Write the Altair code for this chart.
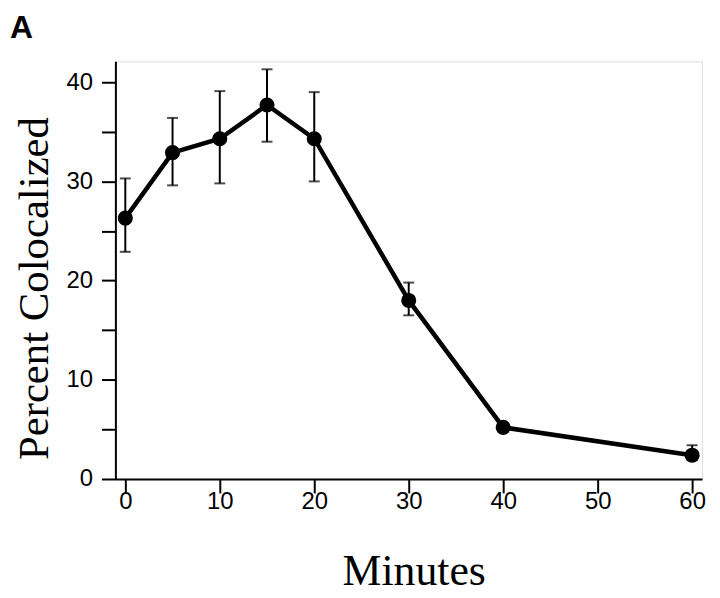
import altair as alt
import pandas as pd

# Data
minutes = [0, 5, 10, 15, 20, 30, 40, 60]
percent = [26.3, 32.9, 34.3, 37.7, 34.3, 18.0, 5.2, 2.4]

err_minutes = [0, 5, 10, 15, 20, 30, 60]
err_low = [22.9, 29.6, 29.8, 34.0, 30.0, 16.5, 1.9]
err_high = [30.3, 36.4, 39.1, 41.3, 39.0, 19.8, 3.4]

x_ticks = [0, 10, 20, 30, 40, 50, 60]
y_ticks = [0, 5, 10, 15, 20, 25, 30, 35, 40]
panel_label = ["A"]

df = pd.DataFrame({"Minutes": minutes, "Percent": percent})
edf = pd.DataFrame({"Minutes": err_minutes, "lo": err_low, "hi": err_high})
ldf = pd.DataFrame({"label": panel_label})

SERIF = "Liberation Serif"
SANS = "Liberation Sans"

xscale = alt.Scale(domain=[-1.05, 61.05], nice=False, zero=False)
yscale = alt.Scale(domain=[0, 42.1], nice=False)

xaxis = alt.Axis(
    values=x_ticks, title="Minutes", grid=False,
    domainColor="black", domainWidth=2, tickColor="black", tickWidth=2, tickSize=14,
    labelFont=SANS, labelFontSize=24, labelColor="black", labelPadding=16,
    labelBaseline="alphabetic", labelAngle=0,
    titleFont=SERIF, titleFontSize=44, titleFontWeight="normal", titleColor="black",
    titleX=300, titleY=106, titleBaseline="alphabetic", titleAnchor="middle", titleAlign="center",
)
yaxis = alt.Axis(
    values=y_ticks, title="Percent Colocalized", grid=False,
    labelExpr="datum.value % 10 == 0 ? datum.label : ''",
    domainColor="black", domainWidth=2, tickColor="black", tickWidth=2, tickSize=14,
    labelFont=SANS, labelFontSize=24, labelColor="black", labelPadding=9,
    titleFont=SERIF, titleFontSize=43, titleFontWeight="normal", titleColor="black",
    titleX=-68, titleY=228, titleAngle=270, titleBaseline="alphabetic", titleAlign="center",
)

base = alt.Chart(df)

line = base.mark_line(color="black", strokeWidth=4.5).encode(
    x=alt.X("Minutes:Q", scale=xscale, axis=xaxis),
    y=alt.Y("Percent:Q", scale=yscale, axis=yaxis),
)
points = base.mark_circle(color="black", opacity=1, size=230).encode(
    x=alt.X("Minutes:Q", scale=xscale),
    y=alt.Y("Percent:Q", scale=yscale),
)
ebase = alt.Chart(edf)
rules = ebase.mark_rule(color="black", strokeWidth=2).encode(
    x=alt.X("Minutes:Q", scale=xscale),
    y=alt.Y("lo:Q", scale=yscale),
    y2="hi:Q",
)
cap_hi = ebase.mark_tick(color="black", orient="horizontal", size=11, thickness=2).encode(
    x=alt.X("Minutes:Q", scale=xscale),
    y=alt.Y("hi:Q", scale=yscale),
)
cap_lo = ebase.mark_tick(color="black", orient="horizontal", size=11, thickness=2).encode(
    x=alt.X("Minutes:Q", scale=xscale),
    y=alt.Y("lo:Q", scale=yscale),
)
panel = alt.Chart(ldf).mark_text(
    font=SANS, fontSize=32, fontWeight="bold", color="black",
    align="left", baseline="alphabetic",
).encode(text="label:N", x=alt.value(-106), y=alt.value(-24))

chart = alt.layer(rules, cap_hi, cap_lo, line, points, panel).properties(
    width=590,
    height=420,
    padding={"left": 108, "top": 52, "right": 10, "bottom": 116},
    autosize=alt.AutoSizeParams(type="none"),
).configure_view(
    stroke="transparent", strokeWidth=0, strokeOpacity=0
).configure(background="white")

chart.save("out.html", embed_options={"renderer": "svg", "actions": False})
